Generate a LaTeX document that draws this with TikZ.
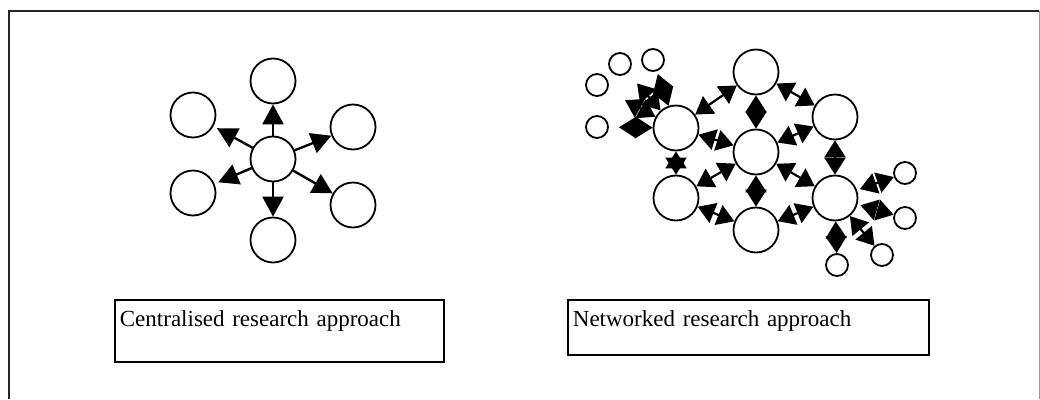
\documentclass[tikz,border=0pt]{standalone}
\usepackage{fontspec}
\setmainfont{Liberation Serif}
\usetikzlibrary{arrows.meta}

\begin{document}
\begin{tikzpicture}[x=1pt, y=-1pt,
    big/.style={circle, draw, line width=1.8pt, minimum size=45pt, inner sep=0pt},
    small/.style={circle, draw, line width=1.8pt, minimum size=22pt, inner sep=0pt},
    oneway/.style={line width=2.4pt, -{Triangle[length=20pt 0 0, width=21pt 0 0]}},
    twoway/.style={line width=2.2pt, {Triangle[length=17pt 0 0, width=21pt 0 0]}-{Triangle[length=17pt 0 0, width=21pt 0 0]}},
    labelbox/.style={draw, line width=1.8pt, anchor=north west, align=left, inner xsep=5pt,
        inner ysep=10pt, text height=17pt, font=\fontsize{23}{27}\selectfont}]
    \useasboundingbox (0, 0) rectangle (1040, 399);

    % frame
    \draw[line width=2pt, black!85] (9, 399) -- (9, 11) -- (1039, 11);
    \draw[line width=1pt, black!40] (1039, 11) -- (1039, 399);

    % centralised
    \node[big] at (273, 159) (hub) {};
    \node[big] at (273, 81) (up) {};
    \node[big] at (193, 115) (upleft) {};
    \node[big] at (353, 127) (upright) {};
    \node[big] at (193, 193) (downleft) {};
    \node[big] at (353, 205) (downright) {};
    \node[big] at (273, 240) (down) {};

    \draw[oneway] (hub) edge (up);
    \draw[oneway] (hub) edge[shorten >=4pt] (upleft);
    \draw[oneway] (hub) edge (upright);
    \draw[oneway] (hub) edge[shorten >=4pt] (downleft);
    \draw[oneway] (hub) edge (downright);
    \draw[oneway] (hub) edge (down);

    % networked
    \node[big] at (676, 128) (west) {};
    \node[big] at (756, 72) (north) {};
    \node[big] at (756, 152) (mid) {};
    \node[big] at (835, 117) (northeast) {};
    \node[big] at (676, 198) (southwest) {};
    \node[big] at (756, 230) (south) {};
    \node[big] at (835, 198) (east) {};

    \node[small] at (620, 64) (s1) {};
    \node[small] at (653, 60) (s2) {};
    \node[small] at (597, 85) (s3) {};
    \node[small] at (597, 127) (s4) {};
    \node[small] at (905, 173) (s5) {};
    \node[small] at (905, 218) (s6) {};
    \node[small] at (882, 255) (s7) {};
    \node[small] at (837, 265) (s8) {};

    \draw[twoway] (west) edge (north);
    \draw[twoway] (north) edge (northeast);
    \draw[twoway] (north) edge (mid);
    \draw[twoway] (west) edge (mid);
    \draw[twoway] (northeast) edge (mid);
    \draw[twoway] (mid) edge (southwest);
    \draw[twoway] (mid) edge (east);
    \draw[twoway] (west) edge (southwest);
    \draw[twoway] (southwest) edge (south);
    \draw[twoway] (south) edge (mid);
    \draw[twoway] (south) edge (east);
    \draw[twoway] (northeast) edge (east);

    \draw[twoway] (s1) edge[shorten <=14pt] (west);
    \draw[twoway] (s2) edge[shorten <=3pt] (west);
    \draw[twoway] (s3) edge[shorten <=20pt] (west);
    \draw[twoway] (s4) edge[shorten <=10pt] (west);
    \draw[twoway] (east) edge[shorten <=3pt] (s5);
    \draw[twoway] (east) edge[shorten <=3pt] (s6);
    \draw[twoway] (east) edge (s7);
    \draw[twoway] (east) edge (s8);

    % labels
    \node[labelbox, text width=319pt, text depth=25pt] at (114, 299) (leftlabel) {Centralised research approach};
    \node[labelbox, text width=351pt, text depth=18pt] at (567, 299) (rightlabel) {Networked research approach};
\end{tikzpicture}
\end{document}
